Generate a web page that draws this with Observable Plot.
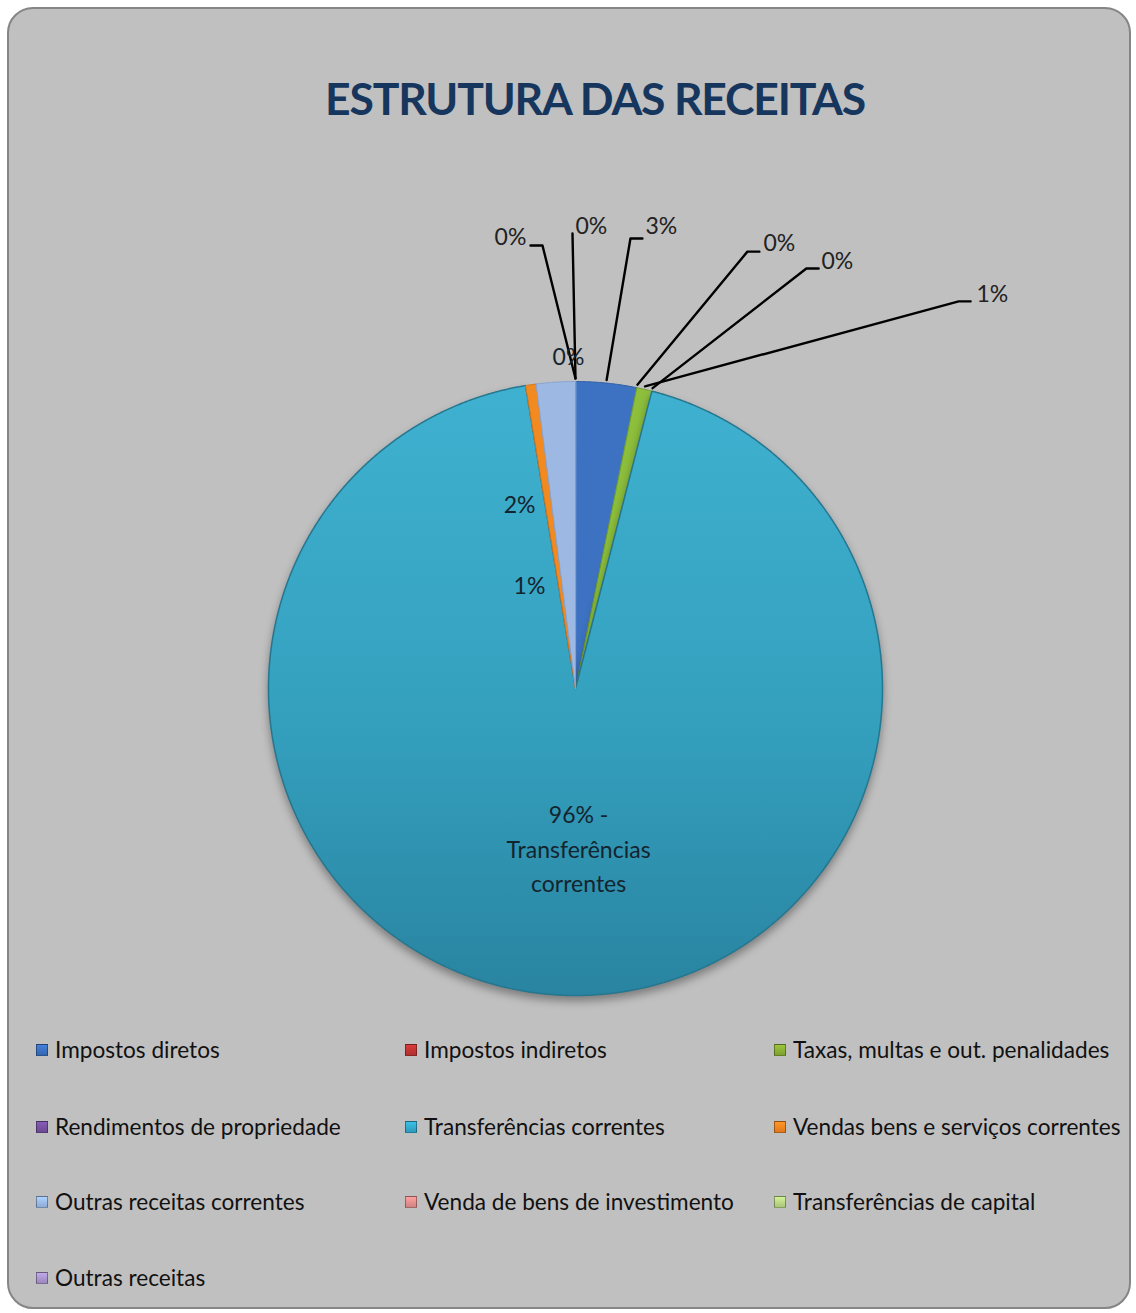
<!DOCTYPE html>
<html><head><meta charset="utf-8">
<script src="https://cdn.jsdelivr.net/npm/d3@7"></script>
<script src="https://cdn.jsdelivr.net/npm/@observablehq/plot@0.6"></script>
<style>
html,body{margin:0;padding:0;background:#fff;}
#wrap{position:relative;width:1136px;height:1313px;overflow:hidden;font-family:Lato,"Open Sans",sans-serif;}
#card{position:absolute;left:7px;top:7px;width:1124px;height:1302px;border:2px solid #858585;border-radius:26px;background:#c0c0c0;box-sizing:border-box;}
#title{position:absolute;left:0;width:1190px;top:70px;text-align:center;font-family:Lato,sans-serif;font-weight:700;font-size:44.5px;letter-spacing:-1.2px;line-height:56px;color:#17365d;}
#chart{position:absolute;left:0;top:0;}
.leg{position:absolute;font-size:22.6px;line-height:26px;color:#111;display:flex;align-items:center;white-space:nowrap;transform:translateY(-50%);}
.sw{width:12px;height:12px;margin-right:7px;box-sizing:border-box;border:1px solid rgba(0,0,0,0.35);}
</style></head>
<body>
<div id="wrap">
  <div id="card"></div>
  <div id="title">ESTRUTURA DAS RECEITAS</div>
  <div id="chart"></div>
</div>
<script>
// ---- data ----
const categories = [
  "Impostos diretos",
  "Impostos indiretos",
  "Taxas, multas e out. penalidades",
  "Rendimentos de propriedade",
  "Transferências correntes",
  "Vendas bens e serviços correntes",
  "Outras receitas correntes",
  "Venda de bens de investimento",
  "Transferências de capital",
  "Outras receitas"
];
const values = [3.2, 0, 0.8, 0, 93.4, 0.55, 2.05, 0, 0, 0];
const pctLabels = ["3%", "0%", "1%", "0%", "96% -\nTransferências\ncorrentes", "1%", "2%", "0%", "0%", "0%"];
const sliceColors = ["#3d72c2", "#c0504d", "#8dbf3c", "#8064a2", "url(#gTeal)", "#f28a22", "#9db8e2", "#d99694", "#c3d69b", "#b3a2c7"];
const sliceStrokes = ["#2e5ea6", "#a03c3a", "#6f9e2a", "#6a4f8c", "#25768f", "#d4741a", "#86a3d0", "#c07c7a", "#a9bf82", "#9a89b0"];
const legendColors = ["#3567b0", "#b03030", "#7ea030", "#6c4a94", "#2e9bbb", "#e0791e", "#8eaad6", "#d08282", "#aac47a", "#9c88bd"];

// ---- layout (label placement in pie-radius units, relative to pie centre) ----
const labelPlacement = [
  {i: 0, tx: 0.228, ty: 1.505, anchor: "start", path: [[0.179, 1.466], [0.218, 1.466]]},
  {i: 1, tx: 0.612, ty: 1.450, anchor: "start", path: [[0.560, 1.423], [0.599, 1.423]]},
  {i: 3, tx: 0.801, ty: 1.391, anchor: "start", path: [[0.752, 1.368], [0.792, 1.368]]},
  {i: 2, tx: 1.306, ty: 1.283, anchor: "start", path: [[1.248, 1.261], [1.287, 1.261]]},
  {i: 4, tx: 0.010, ty: -0.515, anchor: "middle", path: null, inside: true},
  {i: 5, tx: -0.150, ty: 0.342, anchor: "middle", path: null, inside: true},
  {i: 6, tx: -0.182, ty: 0.606, anchor: "middle", path: null, inside: true},
  {i: 7, tx: -0.023, ty: 1.088, anchor: "middle", path: null},
  {i: 8, tx: 0.000, ty: 1.505, anchor: "start", path: [[-0.0098, 1.482]]},
  {i: 9, tx: -0.160, ty: 1.469, anchor: "end", path: [[-0.1075, 1.443], [-0.1466, 1.443]]}
];
const legendColX = [36, 405, 774];
const legendRowY = [1050, 1127, 1202, 1278];

// ---- build pie geometry ----
const data = categories.map((name, i) => ({name, value: values[i], i}));
const arcs = d3.pie().sort(null).value(d => d.value)(data);

const sliceMarks = [];
arcs.forEach((p, k) => {
  if (p.data.value <= 0) return;
  const pts = [{x: 0, y: 0}];
  const n = Math.max(4, Math.ceil((p.endAngle - p.startAngle) / 0.004));
  for (let j = 0; j <= n; j++) {
    const a = p.startAngle + (p.endAngle - p.startAngle) * j / n;
    pts.push({x: Math.sin(a), y: Math.cos(a)});
  }
  sliceMarks.push(Plot.line(pts, {
    x: "x", y: "y", curve: "linear-closed",
    fill: sliceColors[k], stroke: sliceStrokes[k], strokeWidth: k === 4 ? 1.5 : 1
  }));
});

// leader lines
const leaderPts = [];
labelPlacement.forEach(lp => {
  if (!lp.path) return;
  const p = arcs[lp.i];
  const a = (p.startAngle + p.endAngle) / 2;
  leaderPts.push({z: lp.i, x: Math.sin(a) * 1.01, y: Math.cos(a) * 1.01});
  lp.path.forEach(([x, y]) => leaderPts.push({z: lp.i, x, y}));
});

const labelData = labelPlacement.map(lp => ({
  x: lp.tx, y: lp.ty, text: pctLabels[lp.i], anchor: lp.anchor, inside: !!lp.inside
}));

const chart = Plot.plot({
  width: 1136, height: 1010,
  margin: 0,
  style: {background: "transparent", overflow: "visible"},
  x: {domain: [-1, 1], range: [268, 882], axis: null},
  y: {domain: [-1, 1], range: [995, 381], axis: null},
  marks: [
    ...sliceMarks,
    Plot.line(leaderPts, {x: "x", y: "y", z: "z", stroke: "#000", strokeWidth: 2.4, curve: "linear"}),
    Plot.text(labelData.filter(d => d.anchor === "start"), {x: "x", y: "y", text: "text", textAnchor: "start", fontSize: 23, fill: "#222", fontFamily: "Lato"}),
    Plot.text(labelData.filter(d => d.anchor === "end"), {x: "x", y: "y", text: "text", textAnchor: "end", fontSize: 23, fill: "#222", fontFamily: "Lato"}),
    Plot.text(labelData.filter(d => d.anchor === "middle"), {x: "x", y: "y", text: "text", textAnchor: "middle", fontSize: 23, lineHeight: 1.48, fill: "#14242e", fontFamily: "Lato"})
  ]
});

// gradient defs for big slice
const ns = "http://www.w3.org/2000/svg";
const defs = document.createElementNS(ns, "defs");
defs.innerHTML = `<linearGradient id="gTeal" x1="0" y1="0" x2="0" y2="1">
  <stop offset="0" stop-color="#3fb1d0"/>
  <stop offset="0.55" stop-color="#34a0be"/>
  <stop offset="1" stop-color="#2984a1"/>
</linearGradient>`;
chart.insertBefore(defs, chart.firstChild);
const big = chart.querySelector('g[fill="url(#gTeal)"]');
if (big) big.style.filter = "drop-shadow(0px 5px 4px rgba(0,0,0,0.35))";
document.getElementById("chart").appendChild(chart);

// legend
const wrap = document.getElementById("wrap");
categories.forEach((name, i) => {
  const el = document.createElement("div");
  el.className = "leg";
  el.style.left = legendColX[i % 3] + "px";
  el.style.top = legendRowY[Math.floor(i / 3)] + "px";
  const sw = document.createElement("span");
  sw.className = "sw";
  sw.style.background = `linear-gradient(to bottom, ${d3.color(legendColors[i]).brighter(0.6)}, ${legendColors[i]})`;
  el.appendChild(sw);
  el.appendChild(document.createTextNode(name));
  wrap.appendChild(el);
});
</script>
</body></html>
